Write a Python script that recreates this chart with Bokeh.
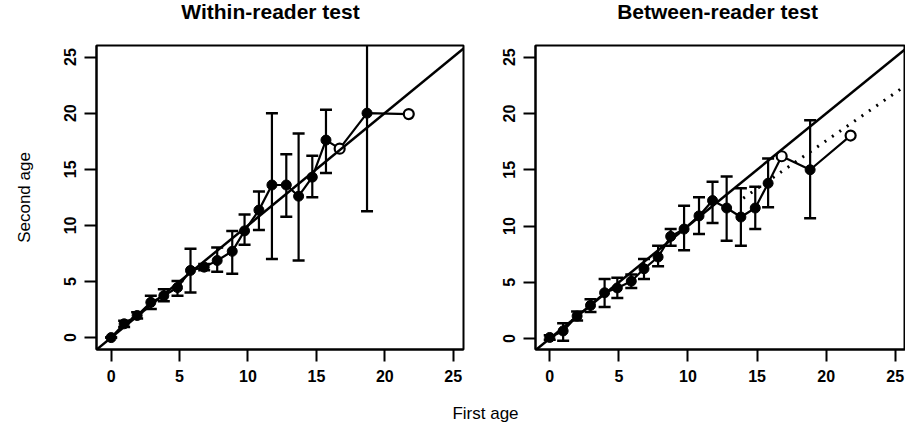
import numpy as np
from bokeh.plotting import figure
from bokeh.layouts import row, column
from bokeh.models import Slope, ColumnDataSource, FixedTicker
from bokeh.core.properties import value
from bokeh.embed import file_html
from bokeh.resources import INLINE

# ---------------- data ----------------
titles = ["Within-reader test", "Between-reader test"]
x_label = "First age"
y_label = "Second age"
tick_values = [0, 5, 10, 15, 20, 25]

# Within-reader test
w_first = [0, 0.95, 1.9, 2.9, 3.85, 4.85, 5.8, 6.8, 7.75, 8.85, 9.75, 10.8,
           11.75, 12.8, 13.7, 14.7, 15.7, 16.7, 18.7, 21.75]
w_second = [0, 1.23, 1.97, 3.14, 3.73, 4.46, 5.99, 6.28, 6.87, 7.69, 9.51, 11.36,
            13.6, 13.6, 12.6, 14.3, 17.6, 16.84, 20.0, 19.92]
w_lower = [0, 0.95, 1.7, 2.55, 3.23, 3.73, 4.02, 6.0, 5.87, 5.7, 8.27, 9.6,
           7.0, 10.77, 6.87, 12.5, 14.67, np.nan, 11.27, np.nan]
w_upper = [0, 1.5, 2.25, 3.73, 4.31, 5.05, 7.92, 6.55, 8.04, 9.5, 10.97, 13.03,
           20.0, 16.34, 18.19, 16.2, 20.3, np.nan, 28.7, np.nan]
w_single = [False] * 17 + [True, False, True]

# Between-reader test
b_first = [0, 0.97, 1.98, 2.95, 3.97, 4.89, 5.9, 6.82, 7.84, 8.75, 9.72, 10.8,
           11.78, 12.8, 13.83, 14.87, 15.8, 16.78, 18.84, 21.77]
b_second = [0.1, 0.68, 2.0, 2.95, 4.07, 4.5, 5.1, 6.2, 7.25, 9.08, 9.73, 10.9,
            12.26, 11.6, 10.8, 11.6, 13.8, 16.2, 15.0, 18.04]
b_lower = [-0.1, -0.2, 1.6, 2.36, 2.8, 3.6, 4.5, 5.3, 6.43, 8.25, 7.84, 9.3,
           10.26, 8.7, 8.25, 9.73, 11.67, np.nan, 10.7, np.nan]
b_upper = [0.3, 1.36, 2.4, 3.5, 5.3, 5.4, 5.7, 7.07, 8.25, 9.73, 11.8, 12.56,
           13.94, 14.4, 13.35, 13.5, 16.0, np.nan, 19.4, np.nan]
b_single = [False] * 17 + [True, False, True]

# fitted (dotted) line in the between-reader panel
fit_first = [14.0, 26.0]
fit_second = [12.47, 22.69]

FONT = "Liberation Sans"
TOP_H = 22


def strip(height, items, size, style):
    s = figure(width=905, height=height, x_range=(0, 905), y_range=(0, height),
               output_backend="svg", toolbar_location=None,
               x_axis_type=None, y_axis_type=None, min_border=0, title=None)
    s.outline_line_color = None
    s.grid.visible = False
    for (txt, cx, cy) in items:
        s.text(x=[cx], y=[cy], text=[txt], text_align="center",
               text_baseline="middle", text_font=value(FONT),
               text_font_size=size, text_font_style=style, text_color="black")
    return s


def panel(xs, ys, lo, hi, single, x_range, y_range, width, borders,
          show_ylabel, fit=None):
    bl, br, bt, bb = borders
    p = figure(width=width, height=400 - TOP_H, x_range=x_range, y_range=y_range,
               output_backend="svg", toolbar_location=None, title=None,
               min_border_left=bl, min_border_right=br,
               min_border_top=bt, min_border_bottom=bb)
    p.grid.visible = False
    p.outline_line_color = "black"
    p.outline_line_width = 2
    p.background_fill_color = "white"
    p.border_fill_color = "white"
    for ax in (p.xaxis[0], p.yaxis[0]):
        ax.ticker = FixedTicker(ticks=tick_values)
        ax.major_tick_out = 12
        ax.major_tick_in = 0
        ax.minor_tick_out = 0
        ax.minor_tick_in = 0
        ax.major_tick_line_width = 2
        ax.axis_line_width = 2
        ax.major_label_text_font = FONT
        ax.major_label_text_font_size = "16px"
        ax.major_label_text_font_style = "bold"
        ax.major_label_text_color = "black"
        ax.major_label_standoff = 8
    p.yaxis[0].major_label_orientation = "vertical"
    if show_ylabel:
        p.yaxis[0].axis_label = y_label
        p.yaxis[0].axis_label_text_font = FONT
        p.yaxis[0].axis_label_text_font_size = "17px"
        p.yaxis[0].axis_label_text_font_style = "normal"
        p.yaxis[0].axis_label_text_color = "black"
        p.yaxis[0].axis_label_standoff = 28

    # identity line
    p.add_layout(Slope(gradient=1, y_intercept=0, line_color="black", line_width=2.5))

    if fit is not None:
        p.line(fit[0], fit[1], line_color="black", line_width=3, line_dash="2 7")

    src = ColumnDataSource(dict(x=xs, y=ys, lo=lo, hi=hi))
    p.line("x", "y", source=src, line_color="black", line_width=2.2)
    p.segment(x0="x", y0="lo", x1="x", y1="hi", source=src,
              line_color="black", line_width=2.2)
    p.scatter("x", "lo", source=src, marker="dash", size=12,
              line_color="black", line_width=2.5)
    p.scatter("x", "hi", source=src, marker="dash", size=12,
              line_color="black", line_width=2.5)

    fx = [a for a, s in zip(xs, single) if not s]
    fy = [b for b, s in zip(ys, single) if not s]
    ox = [a for a, s in zip(xs, single) if s]
    oy = [b for b, s in zip(ys, single) if s]
    p.scatter(fx, fy, size=10, fill_color="black", line_color="black")
    p.scatter(ox, oy, size=10, fill_color="white", line_color="black", line_width=2.2)
    return p


top = strip(TOP_H, [(titles[0], 270, TOP_H - 11), (titles[1], 717, TOP_H - 11)],
            "21px", "bold")
left = panel(w_first, w_second, w_lower, w_upper, w_single,
             (-1.07, 25.75), (-1.06, 26.03), 500, (96, 37, 42 - TOP_H, 51), True)
right = panel(b_first, b_second, b_lower, b_upper, b_single,
              (-1.03, 25.74), (-0.97, 26.04), 405, (35, 0, 45 - TOP_H, 50), False,
              fit=(fit_first, fit_second))
bottom = strip(29, [(x_label, 485, 16)], "17px", "normal")

layout = column(top, row(left, right, spacing=0), bottom, spacing=0)
open("out.html", "w").write(file_html(layout, INLINE))
